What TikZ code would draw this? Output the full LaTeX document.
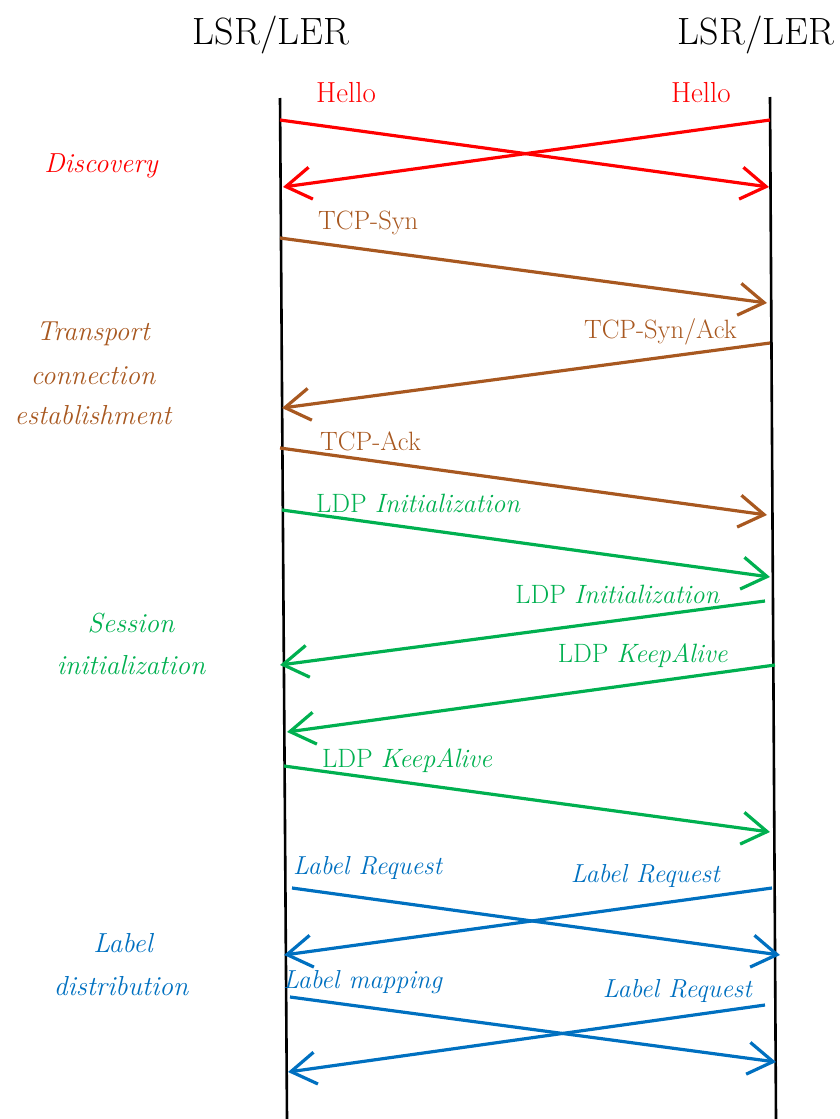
\documentclass[tikz,border=0pt]{standalone}
\usepackage{fontspec}
\usetikzlibrary{arrows.meta}

\definecolor{msgred}{RGB}{255,0,0}
\definecolor{msgbrown}{RGB}{168,88,32}
\definecolor{msggreen}{RGB}{0,176,80}
\definecolor{msgblue}{RGB}{0,112,192}

\tikzset{
  lifeline/.style={line width=2.6pt, black},
  msg/.style={line width=3.2pt, -{Straight Barb[length=25pt,width=32pt,line width=3.2pt]}},
  msgtext/.style={inner sep=0pt, font=\fontsize{26.5}{30}\selectfont},
  msgital/.style={inner sep=0pt, font=\fontsize{26}{30}\selectfont\itshape},
  header/.style={inner sep=0pt, font=\fontsize{38}{44}\selectfont},
  phase/.style={inner sep=0pt, font=\fontsize{27.5}{30}\selectfont\itshape, anchor=base},
}

\begin{document}
\begin{tikzpicture}[x=1pt,y=-1pt]
\useasboundingbox (0,0) rectangle (839,1119);

% ---- the two routers and their lifelines
\node[header, anchor=base] (hdrL) at (271,44) {LSR/LER};
\node[header, anchor=base] (hdrR) at (756,44) {LSR/LER};
\coordinate (Ltop) at (280,98);
\coordinate (Lbot) at (287,1119);
\coordinate (Rtop) at (770,97);
\coordinate (Rbot) at (776,1119);
\draw[lifeline] (Ltop) -- (Lbot);
\draw[lifeline] (Rtop) -- (Rbot);

% ---- endpoints of the messages on the lifelines
\coordinate (r1a) at (280,120);  \coordinate (r1b) at (769,187);
\coordinate (r2a) at (770,120);  \coordinate (r2b) at (283,187);
\coordinate (b1a) at (280,238);  \coordinate (b1b) at (767,303);
\coordinate (b2a) at (770,343);  \coordinate (b2b) at (282,408);
\coordinate (b3a) at (280,448);  \coordinate (b3b) at (767,515);
\coordinate (g1a) at (282,510);  \coordinate (g1b) at (770,577);
\coordinate (g2a) at (765,601);  \coordinate (g2b) at (280,665);
\coordinate (g3a) at (775,665);  \coordinate (g3b) at (287,732);
\coordinate (g4a) at (284,766);  \coordinate (g4b) at (770,832);
\coordinate (l1a) at (292,888);  \coordinate (l1b) at (780,955);
\coordinate (l2a) at (772,888);  \coordinate (l2b) at (284,955);
\coordinate (l3a) at (290,997);  \coordinate (l3b) at (776,1062);
\coordinate (l4a) at (765,1005); \coordinate (l4b) at (288,1072);

% ---- discovery
\node[msgtext, anchor=base west, text=msgred, font=\fontsize{29}{30}\selectfont] (helloL) at (316,102) {Hello};
\node[msgtext, anchor=base east, text=msgred, font=\fontsize{29}{30}\selectfont] (helloR) at (731,102) {Hello};
\draw[msg, msgred] (r1a) -- (r1b);
\draw[msg, msgred] (r2a) -- (r2b);
\node[phase, text=msgred] (discovery) at (101,172) {Discovery};

% ---- transport connection establishment
\node[msgtext, anchor=base west, text=msgbrown] (syn) at (318,229) {TCP-Syn};
\node[msgtext, anchor=base east, text=msgbrown] (synack) at (737,338) {TCP-Syn/Ack};
\node[msgtext, anchor=base west, text=msgbrown] (ack) at (320,450) {TCP-Ack};
\draw[msg, msgbrown] (b1a) -- (b1b);
\draw[msg, msgbrown] (b2a) -- (b2b);
\draw[msg, msgbrown] (b3a) -- (b3b);
\node[phase, text=msgbrown] (transport) at (93,340) {Transport};
\node[phase, text=msgbrown] (connection) at (93,384) {connection};
\node[phase, text=msgbrown] (establishment) at (93,424) {establishment};

% ---- session initialization
\node[msgtext, anchor=base west, text=msggreen] (initL) at (316,512) {LDP \textit{Initialization}};
\node[msgtext, anchor=base east, text=msggreen] (initR) at (720,603) {LDP \textit{Initialization}};
\node[msgtext, anchor=base east, text=msggreen] (kaR) at (728,662) {LDP \textit{KeepAlive}};
\node[msgtext, anchor=base west, text=msggreen] (kaL) at (322,767) {LDP \textit{KeepAlive}};
\draw[msg, msggreen] (g1a) -- (g1b);
\draw[msg, msggreen] (g2a) -- (g2b);
\draw[msg, msggreen] (g3a) -- (g3b);
\draw[msg, msggreen] (g4a) -- (g4b);
\node[phase, text=msggreen] (session) at (131,632) {Session};
\node[phase, text=msggreen] (sessioninit) at (131,674) {initialization};

% ---- label distribution
\node[msgital, anchor=base west, text=msgblue] (reqL) at (293,874) {Label Request};
\node[msgital, anchor=base east, text=msgblue] (reqR) at (720,882) {Label Request};
\node[msgital, anchor=base west, text=msgblue] (mapL) at (283,988) {Label mapping};
\node[msgital, anchor=base east, text=msgblue] (reqR2) at (752,997) {Label Request};
\draw[msg, msgblue] (l1a) -- (l1b);
\draw[msg, msgblue] (l2a) -- (l2b);
\draw[msg, msgblue] (l3a) -- (l3b);
\draw[msg, msgblue] (l4a) -- (l4b);
\node[phase, text=msgblue] (labelcap) at (123,952) {Label};
\node[phase, text=msgblue] (distribution) at (121,995) {distribution};
\end{tikzpicture}
\end{document}
